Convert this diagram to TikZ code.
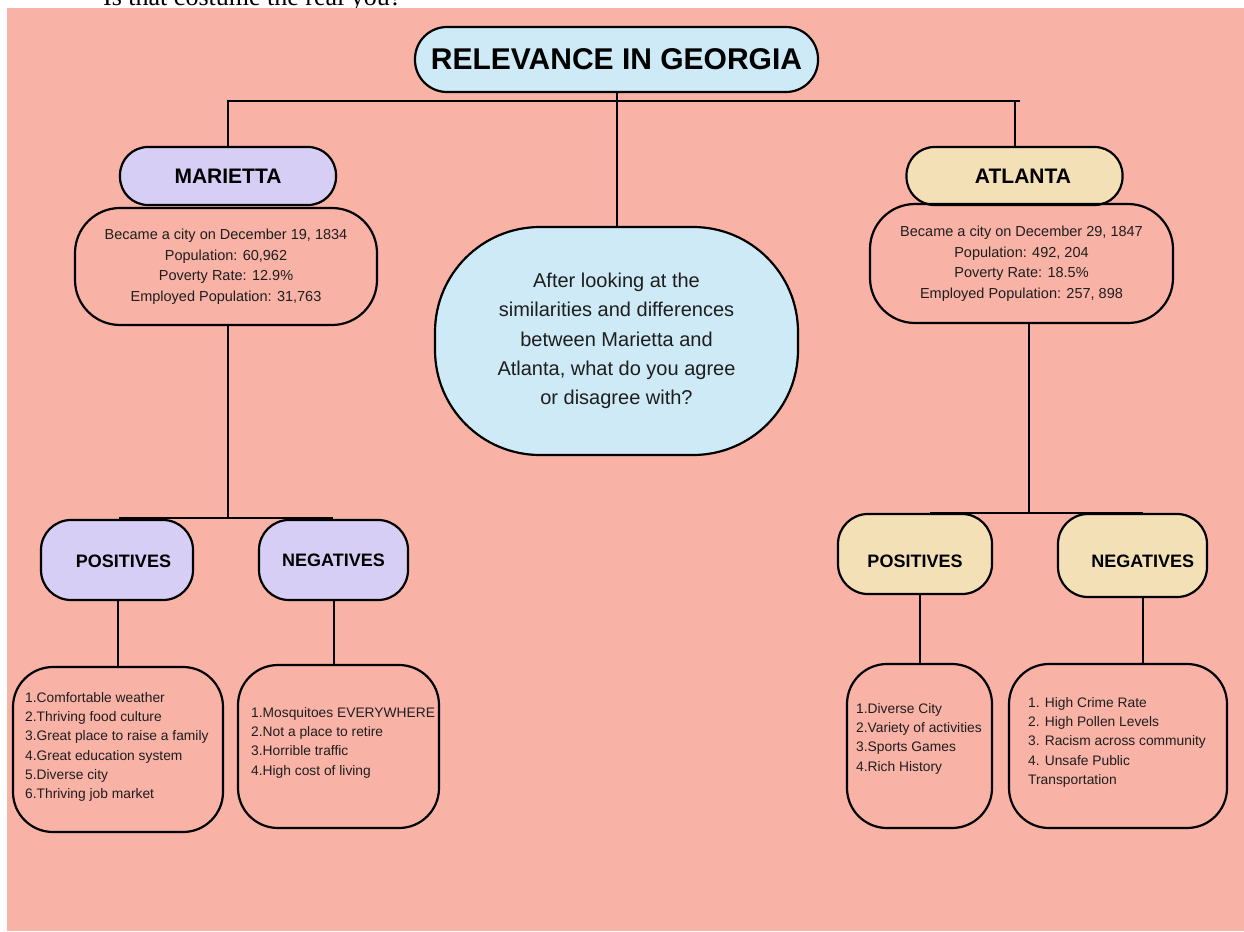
\documentclass[tikz,border=0pt]{standalone}
\usepackage{fontspec}
\setmainfont{Liberation Sans}
\newfontfamily\serifcaption{Liberation Serif}
\usepackage{xcolor}
\usepackage{tikz}
\definecolor{bgpink}{RGB}{249, 178, 166}
\definecolor{topicblue}{RGB}{206, 234, 246}
\definecolor{mariettapurple}{RGB}{214, 206, 245}
\definecolor{atlantasand}{RGB}{243, 224, 183}
\definecolor{bodygray}{RGB}{30, 30, 30}

\tikzset{
    box/.style={draw=black, line width=2.2pt, inner sep=0pt, align=center},
    citybox/.style={box, minimum width=216pt, minimum height=58pt, rounded corners=28pt, font=\bfseries\fontsize{21}{25}\selectfont},
    infobox/.style={box, minimum width=302pt, minimum height=117pt, rounded corners=45pt, text=bodygray, font=\fontsize{14.5}{20.5}\selectfont},
    sidebox/.style={box, minimum height=80pt, rounded corners=30pt, font=\bfseries\fontsize{18}{22}\selectfont},
    listbox/.style={box, minimum height=164pt, rounded corners=40pt},
    listtext/.style={anchor=north west, inner sep=0pt, align=left, text=bodygray, font=\fontsize{13.8}{19.3}\selectfont},
    link/.style={draw=black, line width=2pt}
}

\begin{document}
\begin{tikzpicture}[x=1pt, y=-1pt]
    \useasboundingbox (0,0) rectangle (1244,931);
    \clip (0,0) rectangle (1244,931);
    \fill[white] (0,0) rectangle (1244,931);
    \node[anchor=base west, inner sep=0pt, font=\serifcaption\fontsize{26}{30}\selectfont] (caption) at (103,5.5) {Is that costume the real you?};
    \fill[bgpink] (7,8) rectangle (1244,931);

    % top of the tree
    \node[box, fill=topicblue, minimum width=403pt, minimum height=65pt, rounded corners=32pt, font=\bfseries\fontsize{30}{36}\selectfont] (title) at (616.5,59.5) {RELEVANCE IN GEORGIA};
    \node[box, fill=topicblue, minimum width=363pt, minimum height=228pt, rounded corners=105pt, text=bodygray, font=\fontsize{20}{29.3}\selectfont] (question) at (616.5,341) {After looking at the\\similarities and differences\\between Marietta and\\Atlanta, what do you agree\\or disagree with?};

    % Marietta side
    \node[citybox, fill=mariettapurple] (marietta) at (228,176) {MARIETTA};
    \node[infobox] (minfo) at (226,266.5) {Became a city on December 19, 1834\\Population: 60,962\\Poverty Rate: 12.9\%\\Employed Population: 31,763};
    \node[sidebox, fill=mariettapurple, minimum width=152pt, text width=108pt, align=right, text height=16pt] (mpos) at (117,560) {POSITIVES};
    \node[sidebox, fill=mariettapurple, minimum width=149pt] (mneg) at (333.5,560) {NEGATIVES};
    \node[listbox, minimum width=210pt, minimum height=165pt] (mplist) at (118,749.5) {};
    \node[listbox, minimum width=201pt, minimum height=163pt] (mnlist) at (338.5,746.5) {};
    \node[listtext] (mptext) at (25,692) {1.Comfortable weather\\2.Thriving food culture\\3.Great place to raise a family\\4.Great education system\\5.Diverse city\\6.Thriving job market};
    \node[listtext] (mntext) at (251,707) {1.Mosquitoes EVERYWHERE\\2.Not a place to retire\\3.Horrible traffic\\4.High cost of living};

    % Atlanta side
    \node[citybox, fill=atlantasand, text width=113pt, align=right] (atlanta) at (1014.5,176) {ATLANTA};
    \node[infobox, minimum width=303pt, minimum height=119pt] (ainfo) at (1021.5,263.5) {Became a city on December 29, 1847\\Population: 492, 204\\Poverty Rate: 18.5\%\\Employed Population: 257, 898};
    \node[sidebox, fill=atlantasand, minimum width=154pt, text height=27pt] (apos) at (915,554) {POSITIVES};
    \node[sidebox, fill=atlantasand, minimum width=149pt, minimum height=83pt, text width=123pt, align=right, text height=25pt] (aneg) at (1132.5,555.5) {NEGATIVES};
    \node[listbox, minimum width=145pt] (aplist) at (919.5,746) {};
    \node[listbox, minimum width=218pt] (anlist) at (1118,746) {};
    \node[listtext] (aptext) at (856,703) {1.Diverse City\\2.Variety of activities\\3.Sports Games\\4.Rich History};
    \node[listtext] (antext) at (1028,697) {1. High Crime Rate\\2. High Pollen Levels\\3. Racism across community\\4. Unsafe Public\\Transportation};

    % connectors
    \coordinate (topbar) at (1020,101);
    \draw[link] (marietta.north) |- (topbar);
    \draw[link] (atlanta.north) -- (atlanta.north |- topbar);
    \draw[link] (title.south) -- (question.north);

    \coordinate (mforkL) at (119,518);
    \coordinate (mforkR) at (333,518);
    \draw[link] (mforkL) -- (mforkR);
    \draw[link] ([xshift=2pt]minfo.south) -- ([xshift=2pt]minfo.south |- mforkL);
    \draw[link] (mpos.south -| mplist.north) -- (mplist.north);
    \draw[link] (mneg.south) -- (mneg.south |- mnlist.north);

    \coordinate (aforkL) at (930,513);
    \coordinate (aforkR) at (1143,513);
    \draw[link] (aforkL) -- (aforkR);
    \draw[link] ([xshift=7.5pt]ainfo.south) -- ([xshift=7.5pt]ainfo.south |- aforkL);
    \draw[link] (apos.south -| aplist.north) -- (aplist.north);
    \draw[link] ([xshift=10.5pt]aneg.south) -- ([xshift=10.5pt]aneg.south |- anlist.north);
\end{tikzpicture}
\end{document}
